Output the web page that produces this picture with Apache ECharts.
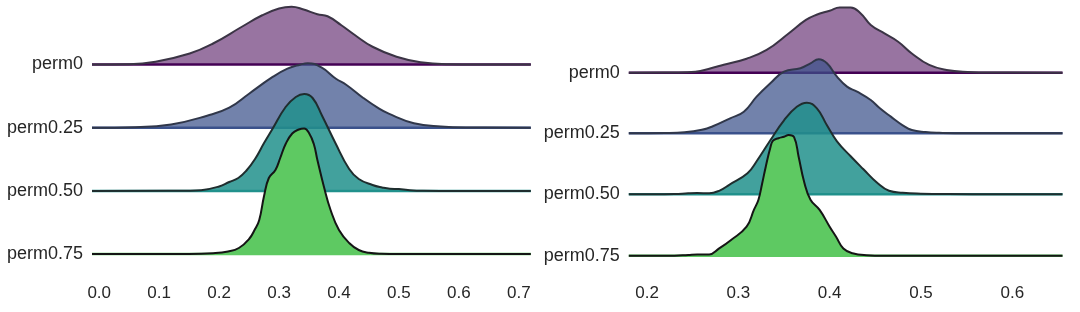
<!DOCTYPE html>
<html><head><meta charset="utf-8">
<script src="https://cdn.jsdelivr.net/npm/echarts@6/dist/echarts.min.js"></script>
<style>html,body{margin:0;padding:0;background:#fff}#c{width:1080px;height:312px}</style>
</head><body><div id="c"></div>
<script>
// ---------- data ----------
const rowNames = ['perm0', 'perm0.25', 'perm0.50', 'perm0.75'];
const leftTicks = ['0.0', '0.1', '0.2', '0.3', '0.4', '0.5', '0.6', '0.7'];
const rightTicks = ['0.2', '0.3', '0.4', '0.5', '0.6'];

// left panel: KDE curves (x, density)
const left0_x = [-0.012, 0.05, 0.094, 0.151, 0.19, 0.238, 0.272, 0.30, 0.321, 0.341, 0.364, 0.381, 0.404, 0.427, 0.456, 0.496, 0.536, 0.583, 0.63, 0.72];
const left0_d = [0, 0.02, 0.22, 0.88, 1.68, 3.02, 3.94, 4.48, 4.62, 4.40, 4.02, 3.86, 3.14, 2.34, 1.42, 0.62, 0.18, 0.02, 0, 0];
const left1_x = [-0.012, 0.06, 0.12, 0.18, 0.217, 0.25, 0.29, 0.314, 0.335, 0.348, 0.37, 0.395, 0.412, 0.44, 0.467, 0.483, 0.525, 0.57, 0.62, 0.72];
const left1_d = [0, 0.04, 0.26, 0.96, 1.6, 2.72, 4.08, 4.72, 5.04, 5.16, 4.84, 3.92, 3.44, 2.4, 1.52, 1.12, 0.36, 0.1, 0.02, 0];
const left2_x = [-0.012, 0.15, 0.17, 0.2, 0.217, 0.232, 0.245, 0.26, 0.275, 0.289, 0.311, 0.328, 0.342, 0.356, 0.372, 0.394, 0.417, 0.433, 0.456, 0.472, 0.485, 0.5, 0.515, 0.54, 0.6, 0.72];
const left2_d = [0, 0.02, 0.06, 0.36, 0.72, 1.04, 1.6, 2.56, 3.84, 4.96, 6.72, 7.52, 7.76, 7.44, 6.0, 3.84, 1.76, 0.96, 0.48, 0.28, 0.18, 0.16, 0.08, 0.02, 0, 0];
const left3_x = [-0.012, 0.15, 0.19, 0.215, 0.233, 0.25, 0.26, 0.267, 0.275, 0.283, 0.294, 0.302, 0.311, 0.322, 0.333, 0.342, 0.35, 0.358, 0.364, 0.375, 0.386, 0.4, 0.417, 0.433, 0.45, 0.47, 0.5, 0.72];
const left3_d = [0, 0, 0.06, 0.2, 0.48, 1.2, 2.0, 2.72, 4.64, 6.08, 6.72, 7.68, 8.8, 9.64, 9.96, 10.04, 9.68, 8.8, 7.52, 5.36, 3.52, 1.92, 0.88, 0.32, 0.1, 0.02, 0, 0];

// right panel: KDE curves (x, density)
const right0_x = [0.18, 0.23, 0.253, 0.27, 0.284, 0.309, 0.331, 0.355, 0.374, 0.385, 0.4, 0.411, 0.423, 0.434, 0.445, 0.46, 0.475, 0.49, 0.509, 0.528, 0.551, 0.58, 0.655];
const right0_d = [0, 0.02, 0.08, 0.36, 0.64, 1.12, 1.82, 3.14, 4.22, 4.62, 4.96, 5.22, 5.22, 4.74, 3.82, 3.14, 2.48, 1.54, 0.62, 0.22, 0.06, 0.01, 0];
const right1_x = [0.18, 0.22, 0.241, 0.26, 0.272, 0.291, 0.306, 0.32, 0.335, 0.35, 0.368, 0.379, 0.388, 0.397, 0.408, 0.419, 0.43, 0.445, 0.455, 0.467, 0.48, 0.49, 0.505, 0.52, 0.55, 0.655];
const right1_d = [0, 0.02, 0.08, 0.28, 0.56, 1.2, 1.73, 2.93, 4.0, 4.93, 5.2, 5.6, 5.92, 5.6, 4.53, 3.73, 3.33, 2.66, 2.0, 1.33, 0.64, 0.26, 0.1, 0.04, 0, 0];
const right2_x = [0.18, 0.23, 0.245, 0.255, 0.268, 0.28, 0.29, 0.31, 0.32, 0.335, 0.35, 0.364, 0.375, 0.386, 0.397, 0.408, 0.423, 0.437, 0.452, 0.465, 0.48, 0.5, 0.53, 0.655];
const right2_d = [0, 0.02, 0.08, 0.1, 0.08, 0.32, 0.76, 1.68, 2.64, 4.32, 5.92, 7.0, 7.33, 6.88, 5.52, 4.24, 3.04, 2.0, 0.92, 0.28, 0.12, 0.05, 0.02, 0];
const right3_x = [0.18, 0.23, 0.245, 0.255, 0.268, 0.279, 0.292, 0.309, 0.317, 0.322, 0.326, 0.33, 0.335, 0.338, 0.344, 0.35, 0.355, 0.361, 0.366, 0.372, 0.379, 0.389, 0.4, 0.407, 0.415, 0.425, 0.44, 0.46, 0.655];
const right3_d = [0, 0, 0.06, 0.1, 0.1, 0.58, 1.26, 2.32, 3.66, 4.48, 5.76, 7.12, 8.64, 9.2, 9.4, 9.52, 9.66, 9.48, 7.92, 5.92, 4.48, 3.66, 2.32, 1.52, 0.58, 0.2, 0.04, 0, 0];

// ---------- styles & layout ----------
const rowColors = ['#440154', '#3b528b', '#21918c', '#5ec962'];
const fillColors = ['rgba(68,1,84,0.55)', 'rgba(59,82,139,0.72)', 'rgba(33,145,140,0.85)', 'rgba(94,201,98,1)'];
const edgeColors = ['#3b3445', '#30374a', '#1f2d2e', '#151515'];
const FONT = '"Liberation Sans", Arial, Helvetica, sans-serif';
const TEXT = '#262626';
const PX_PER_UNIT = 12.5;

const panels = [
  { left: 92, width: 438.8, xmin: -0.012, xmax: 0.72, baselines: [64.5, 127.7, 191, 254], labelMargin: 9,
    ticks: leftTicks, curves: [[left0_x, left0_d], [left1_x, left1_d], [left2_x, left2_d], [left3_x, left3_d]] },
  { left: 628.8, width: 433.7, xmin: 0.18, xmax: 0.655, baselines: [72.7, 133.3, 194.3, 255.7], labelMargin: 9,
    ticks: rightTicks, curves: [[right0_x, right0_d], [right1_x, right1_d], [right2_x, right2_d], [right3_x, right3_d]] }
];

const grid = [], xAxis = [], yAxis = [], series = [];
panels.forEach((p, pi) => {
  p.curves.forEach((c, ri) => {
    const b = p.baselines[ri];
    const idx = grid.length;
    grid.push({ left: p.left, width: p.width, top: 0, height: b });
    xAxis.push({ type: 'value', gridIndex: idx, min: p.xmin, max: p.xmax, show: false });
    yAxis.push({ type: 'value', gridIndex: idx, min: 0, max: b / PX_PER_UNIT,
      axisLine: { show: false }, axisTick: { show: false }, splitLine: { show: false },
      axisLabel: { show: true, margin: p.labelMargin, fontSize: 18, color: TEXT, fontFamily: FONT,
        padding: [3, 0, 0, 0],
        formatter: (v) => (v === 0 ? rowNames[ri] : '') } });
    series.push({ type: 'line', xAxisIndex: idx, yAxisIndex: idx, z: 10 + ri * 3,
      data: [[p.xmin, 0], [p.xmax, 0]], showSymbol: false, silent: true, clip: false,
      lineStyle: { color: rowColors[ri], width: 2.5 } });
    series.push({ type: 'line', xAxisIndex: idx, yAxisIndex: idx, z: 11 + ri * 3,
      data: c[0].map((x, i) => [x, c[1][i]]), smooth: 0.45,
      showSymbol: false, silent: true, clip: false,
      lineStyle: { color: edgeColors[ri], width: 2, join: 'round' },
      areaStyle: { color: fillColors[ri], origin: 'start', opacity: 1 } });
  });
  // tick label axis
  const tmin = parseFloat(p.ticks[0]), tmax = parseFloat(p.ticks[p.ticks.length - 1]);
  const scale = p.width / (p.xmax - p.xmin);
  const idx = grid.length;
  grid.push({ left: p.left + (tmin - p.xmin) * scale, width: (tmax - tmin) * scale, top: 270, height: 1 });
  xAxis.push({ type: 'value', gridIndex: idx, min: tmin, max: tmax, interval: 0.1,
    axisLine: { show: false }, axisTick: { show: false }, splitLine: { show: false },
    axisLabel: { margin: 14, fontSize: 17, color: TEXT, fontFamily: FONT,
      formatter: (v) => p.ticks[Math.round((v - tmin) / 0.1)] } });
  yAxis.push({ type: 'value', gridIndex: idx, show: false });
});

const chart = echarts.init(document.getElementById('c'), null, { renderer: 'canvas' });
chart.setOption({ animation: false, backgroundColor: '#fff', grid, xAxis, yAxis, series });
</script>
</body></html>
